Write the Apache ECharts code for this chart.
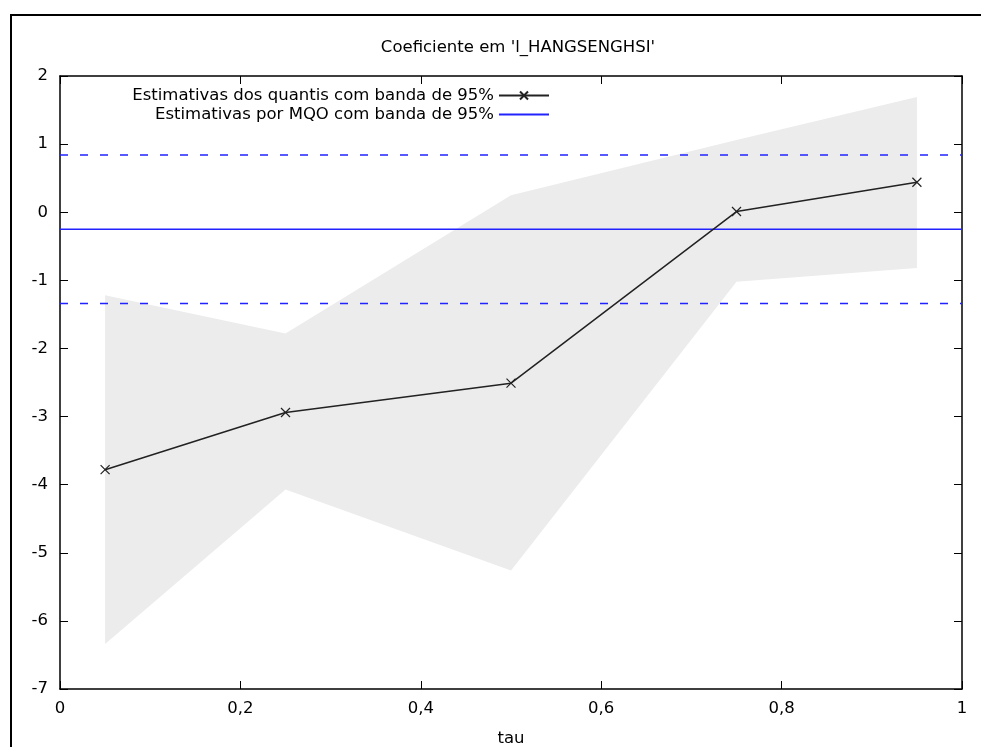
<!DOCTYPE html>
<html>
<head>
<meta charset="utf-8">
<script src="https://cdn.jsdelivr.net/npm/echarts@6/dist/echarts.min.js"></script>
<style>html,body{margin:0;padding:0;background:#fff}#c{width:981px;height:747px}</style>
</head>
<body>
<div id="c"></div>
<script>
const tau = [0.05, 0.25, 0.5, 0.75, 0.95];
const coef = [-3.78, -2.94, -2.51, 0.01, 0.44];
const lower = [-6.34, -4.07, -5.26, -1.02, -0.82];
const upper = [-1.22, -1.78, 0.25, 1.06, 1.69];
const olsEst = -0.25;
const olsLo = -1.34;
const olsHi = 0.84;
const xRange = [0, 1];
const titleText = "Coeficiente em 'l_HANGSENGHSI'";
const legendNames = ['Estimativas dos quantis com banda de 95%', 'Estimativas por MQO com banda de 95%'];

const FONT = 'DejaVu Sans';
const FS = 16.5;
const chart = echarts.init(document.getElementById('c'), null, {renderer: 'canvas'});
const bandData = tau.map((t, i) => [t, lower[i], upper[i]]);
const xFmt = v => (v === 0 || v === 1) ? String(v) : v.toFixed(1).replace('.', ',');
const crossPath = 'path://M0,0L10,10M10,0L0,10';

const option = {
  animation: false,
  backgroundColor: '#fff',
  textStyle: {fontFamily: FONT},
  title: {
    text: titleText, left: 513, top: 34, textAlign: 'center',
    textStyle: {fontFamily: FONT, fontSize: FS, fontWeight: 'normal', color: '#000'}
  },
  graphic: [{
    type: 'rect', shape: {x: 11, y: 15, width: 1000, height: 800},
    style: {fill: 'none', stroke: '#000', lineWidth: 2}, silent: true
  }],
  legend: {
    orient: 'vertical', align: 'right', right: 426, top: 82,
    itemWidth: 50, itemHeight: 10, itemGap: 2,
    textStyle: {fontFamily: FONT, fontSize: FS, color: '#000'},
    data: [
      {name: legendNames[0]},
      {name: legendNames[1], itemStyle: {opacity: 0}}
    ],
    selectedMode: false
  },
  grid: {left: 60, right: 19, top: 76, bottom: 58, containLabel: false, outerBoundsMode: 'none'},
  xAxis: [{
    type: 'value', min: xRange[0], max: xRange[1], interval: 0.2,
    name: 'tau', nameLocation: 'middle', nameGap: 41,
    nameTextStyle: {fontFamily: FONT, fontSize: FS, color: '#000'},
    axisLine: {show: true, onZero: false, lineStyle: {color: '#000', width: 1.5}},
    axisTick: {show: true, inside: true, length: 8, lineStyle: {color: '#000'}},
    axisLabel: {formatter: xFmt, fontFamily: FONT, fontSize: FS, color: '#000', margin: 11},
    splitLine: {show: false}
  }, {
    type: 'value', position: 'top', min: xRange[0], max: xRange[1], interval: 0.2,
    axisLine: {show: true, onZero: false, lineStyle: {color: '#000', width: 1.5}},
    axisTick: {show: true, inside: true, length: 8, lineStyle: {color: '#000'}},
    axisLabel: {show: false}, splitLine: {show: false}
  }],
  yAxis: [{
    type: 'value', min: -7, max: 2, interval: 1,
    axisLine: {show: true, onZero: false, lineStyle: {color: '#000', width: 1.5}},
    axisTick: {show: true, inside: true, length: 8, lineStyle: {color: '#000'}},
    axisLabel: {fontFamily: FONT, fontSize: FS, color: '#000', margin: 12},
    splitLine: {show: false}
  }, {
    type: 'value', position: 'right', min: -7, max: 2, interval: 1,
    axisLine: {show: true, onZero: false, lineStyle: {color: '#000', width: 1.5}},
    axisTick: {show: true, inside: true, length: 8, lineStyle: {color: '#000'}},
    axisLabel: {show: false}, splitLine: {show: false}
  }],
  series: [
    {
      type: 'custom', name: 'band', silent: true, z: 1,
      data: bandData,
      encode: {x: 0, y: [1, 2]},
      renderItem: function (params, api) {
        if (params.dataIndex !== 0) return null;
        const pts = [];
        for (let i = 0; i < bandData.length; i++) pts.push(api.coord([bandData[i][0], bandData[i][2]]));
        for (let i = bandData.length - 1; i >= 0; i--) pts.push(api.coord([bandData[i][0], bandData[i][1]]));
        return {type: 'polygon', shape: {points: pts}, style: {fill: '#ececec', stroke: null}};
      }
    },
    {
      type: 'line', name: legendNames[1], z: 3,
      data: [[xRange[0], olsEst], [xRange[1], olsEst]],
      symbol: 'none', lineStyle: {color: '#2222ff', width: 1.5}, itemStyle: {color: '#2222ff'}
    },
    {
      type: 'line', name: 'olsHi', z: 3,
      data: [[xRange[0], olsHi], [xRange[1], olsHi]],
      symbol: 'none', lineStyle: {color: '#2222ff', width: 1.6, type: [8, 12]}
    },
    {
      type: 'line', name: 'olsLo', z: 3,
      data: [[xRange[0], olsLo], [xRange[1], olsLo]],
      symbol: 'none', lineStyle: {color: '#2222ff', width: 1.6, type: [8, 12]}
    },
    {
      type: 'line', name: legendNames[0], z: 4,
      data: tau.map((t, i) => [t, coef[i]]),
      symbol: crossPath, symbolSize: 9, showAllSymbol: true,
      lineStyle: {color: '#222', width: 1.5},
      itemStyle: {color: '#222', borderColor: '#222', borderWidth: 1.2}
    }
  ]
};
chart.setOption(option);
</script>
</body>
</html>
